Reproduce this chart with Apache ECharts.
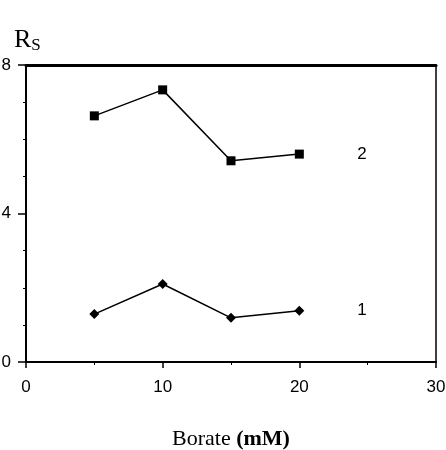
<!DOCTYPE html>
<html>
<head>
<meta charset="utf-8">
<script src="https://cdn.jsdelivr.net/npm/echarts@6/dist/echarts.min.js"></script>
<style>
  html, body { margin: 0; padding: 0; background: #fff; }
  #chart { width: 446px; height: 450px; }
</style>
</head>
<body>
<div id="chart"></div>
<script>
  // borate concentration (mM)
  const borate = [5, 10, 15, 20];
  // Rs values per curve
  const curve1 = [1.29, 2.1, 1.19, 1.38];
  const curve2 = [6.63, 7.33, 5.42, 5.6];
  const curveNames = ['1', '2'];

  const pairs = (xs, ys) => xs.map((x, i) => [x, ys[i]]);
  const tickFont = { fontFamily: 'Liberation Sans, Arial, sans-serif', fontSize: 17, color: '#000' };
  const serif = 'Liberation Serif, Times New Roman, serif';

  const chart = echarts.init(document.getElementById('chart'));

  const lineSeries = (name, data, symbol) => ({
    name: name,
    type: 'line',
    data: data,
    symbol: symbol,
    symbolSize: symbol === 'rect' ? 9 : 10,
    itemStyle: { color: '#000' },
    lineStyle: { color: '#000', width: 1.5 },
    endLabel: {
      show: true,
      formatter: name,
      distance: 58,
      fontFamily: tickFont.fontFamily,
      fontSize: tickFont.fontSize,
      color: '#000'
    },
    animation: false
  });

  chart.setOption({
    title: {
      text: '{r|R}{s|S}',
      left: 9,
      top: 22,
      textStyle: {
        fontWeight: 'normal',
        rich: {
          r: { fontFamily: serif, fontSize: 26, fontWeight: 'normal', color: '#000' },
          s: { fontFamily: serif, fontSize: 17, fontWeight: 'normal', color: '#000', padding: [10, 0, 0, 0] }
        }
      }
    },
    grid: { left: 26, right: 10, top: 65, bottom: 88, containLabel: false, outerBoundsMode: 'none' },
    xAxis: [{
      type: 'value',
      min: 0, max: 30, interval: 10,
      position: 'bottom',
      name: '{a|Borate }{b|(mM)}',
      nameLocation: 'middle',
      nameGap: 66,
      nameTextStyle: {
        rich: {
          a: { fontFamily: serif, fontSize: 22, color: '#000' },
          b: { fontFamily: serif, fontSize: 22, fontWeight: 'bold', color: '#000' }
        }
      },
      axisLine: { onZero: false, lineStyle: { color: '#000', width: 2 } },
      axisTick: { length: 6, lineStyle: { color: '#000', width: 1.5 } },
      minorTick: { show: true, splitNumber: 2, length: 3, lineStyle: { color: '#000', width: 1 } },
      axisLabel: { margin: 17, fontFamily: tickFont.fontFamily, fontSize: tickFont.fontSize, color: '#000' },
      splitLine: { show: false }
    }, {
      type: 'value',
      min: 0, max: 30,
      position: 'top',
      axisLine: { onZero: false, lineStyle: { color: '#000', width: 3 } },
      axisTick: { show: false },
      axisLabel: { show: false },
      splitLine: { show: false }
    }],
    yAxis: [{
      type: 'value',
      min: 0, max: 8, interval: 4,
      position: 'left',
      axisLine: { show: true, onZero: false, lineStyle: { color: '#000', width: 2 } },
      axisTick: { show: true, length: 8, lineStyle: { color: '#000', width: 1.5 } },
      minorTick: { show: true, splitNumber: 4, length: 3, lineStyle: { color: '#000', width: 1 } },
      axisLabel: { margin: 15, fontFamily: tickFont.fontFamily, fontSize: tickFont.fontSize, color: '#000' },
      splitLine: { show: false }
    }, {
      type: 'value',
      min: 0, max: 8,
      position: 'right',
      axisLine: { show: true, onZero: false, lineStyle: { color: '#000', width: 1.5 } },
      axisTick: { show: false },
      axisLabel: { show: false },
      splitLine: { show: false }
    }],
    series: [
      lineSeries(curveNames[1], pairs(borate, curve2), 'rect'),
      lineSeries(curveNames[0], pairs(borate, curve1), 'diamond')
    ]
  });
</script>
</body>
</html>
